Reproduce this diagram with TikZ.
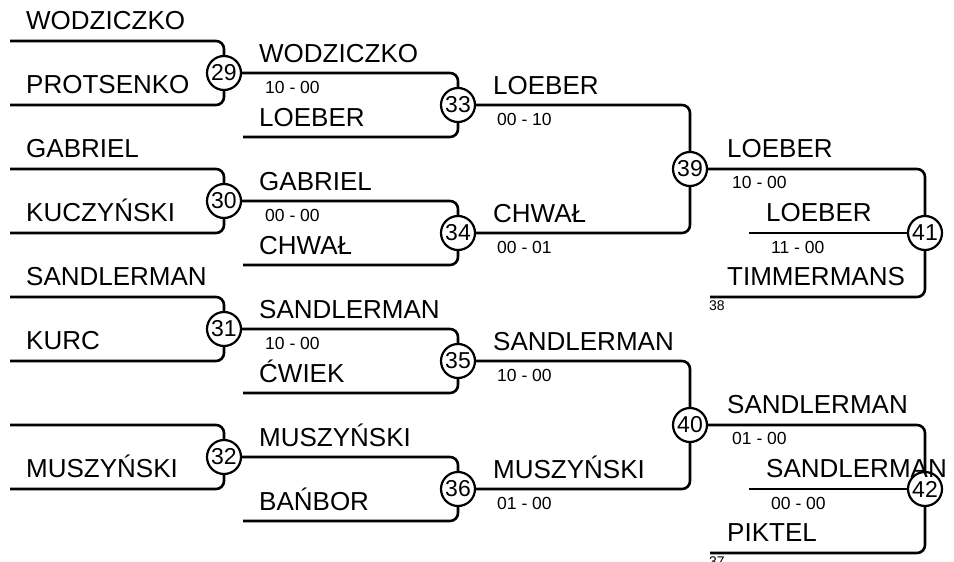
\documentclass[tikz,border=0pt]{standalone}
\usepackage{fontspec}
\setmainfont{Liberation Sans}
\usetikzlibrary{positioning}

\tikzset{
  player/.style={anchor=base west, inner sep=0pt, font=\fontsize{26}{30}\selectfont},
  score/.style={anchor=base west, inner sep=0pt, font=\fontsize{17.5}{20}\selectfont},
  seed/.style={anchor=base west, inner sep=0pt, font=\fontsize{14}{16}\selectfont},
  matchno/.style={draw, circle, line width=2.2pt, fill=white, inner sep=0pt,
    minimum size=34pt, font=\fontsize{23}{25}\selectfont},
  link/.style={line width=2.6pt, rounded corners=8pt}
}

\begin{document}
\begin{tikzpicture}[x=1pt, y=-1pt]
  \useasboundingbox (0,0) rectangle (954,562);

  % match circles
  \node[matchno] (m29) at (224,73) {29};
  \node[matchno] (m30) at (224,201) {30};
  \node[matchno] (m31) at (224,329) {31};
  \node[matchno] (m32) at (224,457) {32};
  \node[matchno] (m33) at (458,105) {33};
  \node[matchno] (m34) at (458,233) {34};
  \node[matchno] (m35) at (458,361) {35};
  \node[matchno] (m36) at (458,489) {36};
  \node[matchno] (m39) at (690,169) {39};
  \node[matchno] (m40) at (690,425) {40};
  \node[matchno] (m41) at (925,233) {41};
  \node[matchno] (m42) at (925,489) {42};

  % free line ends
  \coordinate (s29a) at (10,41);   \coordinate (s29b) at (10,105);
  \coordinate (s30a) at (10,169);  \coordinate (s30b) at (10,233);
  \coordinate (s31a) at (10,297);  \coordinate (s31b) at (10,361);
  \coordinate (s32a) at (10,425);  \coordinate (s32b) at (10,489);
  \coordinate (s33b) at (243,137); \coordinate (s34b) at (243,265);
  \coordinate (s35b) at (243,393); \coordinate (s36b) at (243,521);
  \coordinate (s41b) at (749,233); \coordinate (s41c) at (710,297);
  \coordinate (s42b) at (749,489); \coordinate (s42c) at (710,553);

  % first round
  \foreach \m in {29,30,31,32} {
    \draw[link] (s\m a) -| (m\m.north);
    \draw[link] (s\m b) -| (m\m.south);
  }
  % second round
  \draw[link] (m29.east) -| (m33.north);  \draw[link] (s33b) -| (m33.south);
  \draw[link] (m30.east) -| (m34.north);  \draw[link] (s34b) -| (m34.south);
  \draw[link] (m31.east) -| (m35.north);  \draw[link] (s35b) -| (m35.south);
  \draw[link] (m32.east) -| (m36.north);  \draw[link] (s36b) -| (m36.south);
  % third round
  \draw[link] (m33.east) -| (m39.north);  \draw[link] (m34.east) -| (m39.south);
  \draw[link] (m35.east) -| (m40.north);  \draw[link] (m36.east) -| (m40.south);
  % last round
  \draw[link] (m39.east) -| (m41.north);  \draw[link] (s41b) -- (m41.west);
  \draw[link] (s41c) -| (m41.south);
  \draw[link] (m40.east) -| (m42.north);  \draw[link] (s42b) -- (m42.west);
  \draw[link] (s42c) -| (m42.south);

  % names, first round
  \node[player] (p1) at (26,29) {WODZICZKO};
  \node[player] (p2) at (26,93) {PROTSENKO};
  \node[player] (p3) at (26,157) {GABRIEL};
  \node[player] (p4) at (26,221) {KUCZYŃSKI};
  \node[player] (p5) at (26,285) {SANDLERMAN};
  \node[player] (p6) at (26,349) {KURC};
  \node[player] (p8) at (26,477) {MUSZYŃSKI};

  % names and scores, second round
  \node[player] (q1) at (259,62) {WODZICZKO};
  \node[score] (r33) at (265,93) {10 - 00};
  \node[player] (q2) at (259,126) {LOEBER};
  \node[player] (q3) at (259,190) {GABRIEL};
  \node[score] (r34) at (265,221) {00 - 00};
  \node[player] (q4) at (259,254) {CHWAŁ};
  \node[player] (q5) at (259,318) {SANDLERMAN};
  \node[score] (r35) at (265,349) {10 - 00};
  \node[player] (q6) at (259,382) {ĆWIEK};
  \node[player] (q7) at (259,446) {MUSZYŃSKI};
  \node[player] (q8) at (259,510) {BAŃBOR};

  % third round
  \node[player] (t1) at (493,94) {LOEBER};
  \node[score] (r39a) at (497,125) {00 - 10};
  \node[player] (t2) at (493,222) {CHWAŁ};
  \node[score] (r39b) at (497,253) {00 - 01};
  \node[player] (t3) at (493,350) {SANDLERMAN};
  \node[score] (r40a) at (497,381) {10 - 00};
  \node[player] (t4) at (493,478) {MUSZYŃSKI};
  \node[score] (r40b) at (497,509) {01 - 00};

  % last round
  \node[player] (u1) at (727,157) {LOEBER};
  \node[score] (r41a) at (732,188) {10 - 00};
  \node[player] (u2) at (766,221) {LOEBER};
  \node[score] (r41b) at (771,253) {11 - 00};
  \node[player] (u3) at (727,285) {TIMMERMANS};
  \node[seed] (n38) at (709,310) {38};
  \node[player] (u4) at (727,413) {SANDLERMAN};
  \node[score] (r42a) at (732,444) {01 - 00};
  \node[player] (u5) at (766,477) {SANDLERMAN};
  \node[score] (r42b) at (771,509) {00 - 00};
  \node[player] (u6) at (727,541) {PIKTEL};
  \node[seed] (n37) at (709,566) {37};
\end{tikzpicture}
\end{document}
